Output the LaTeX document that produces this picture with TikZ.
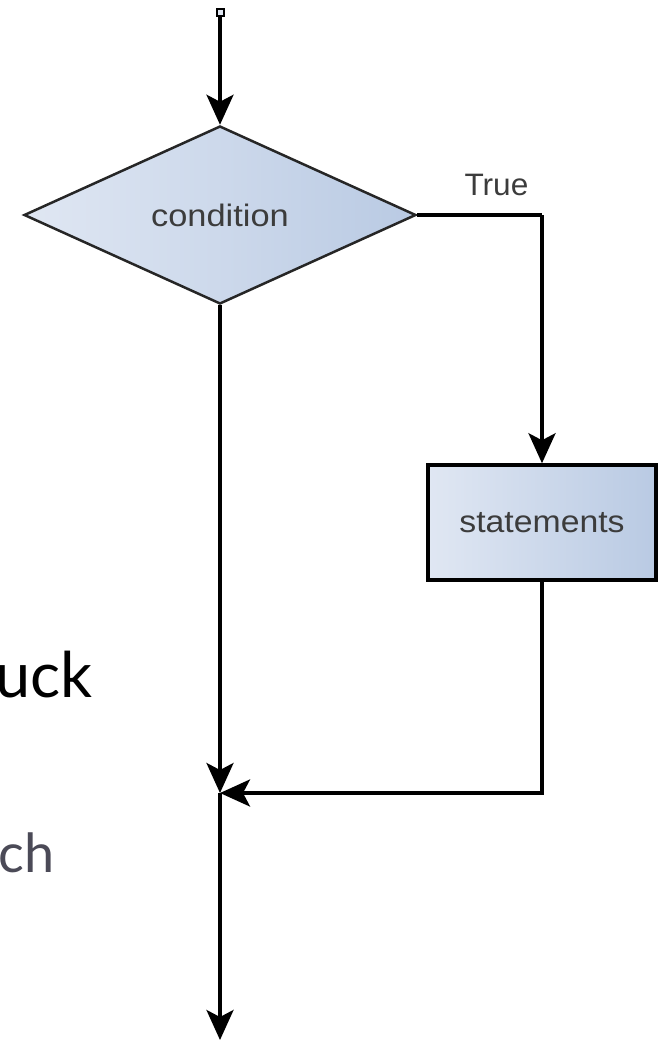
\documentclass[tikz,border=0pt]{standalone}
\usepackage{fontspec}
\setmainfont{Liberation Sans}
\newfontfamily\slidefont{Lato}
\usetikzlibrary{shapes.geometric,arrows.meta}

\definecolor{boxlight}{HTML}{E0E7F3}
\definecolor{boxdark}{HTML}{B9CAE3}
\definecolor{labelgrey}{HTML}{3C3C3C}
\definecolor{slidegrey}{HTML}{4B4A57}

\tikzset{
  wire/.style={line width=3.5pt},
  flow/.style={wire, -{Stealth[length=30pt,width=27pt,inset=7pt]}},
  decision/.style={diamond, draw=black!85, line width=2.5pt,
    left color=boxlight, right color=boxdark,
    minimum width=392pt, minimum height=178pt, inner sep=0pt,
    text=labelgrey, font=\fontsize{31}{36}\selectfont},
  process/.style={rectangle, draw=black, line width=3.5pt,
    left color=boxlight, right color=boxdark,
    minimum width=228pt, minimum height=115pt, inner sep=0pt,
    text=labelgrey, font=\fontsize{31}{36}\selectfont},
  startmark/.style={rectangle, draw=black, line width=2pt, fill=boxlight,
    minimum size=7pt, inner sep=0pt},
  slidetext/.style={font=\slidefont\fontsize{63}{70}\selectfont, anchor=base east},
}

\begin{document}
\begin{tikzpicture}[x=1pt,y=-1pt]
  \useasboundingbox (0,0) rectangle (659,1043);

  % flowchart nodes
  \node[startmark] (start) at (220,13) {};
  \node[decision] (cond) at (220,215) {\scalebox{1.11}[1]{condition}};
  \node[process] (stmt) at (542,522.5) {\scalebox{1.09}[1]{statements}};
  \coordinate (bend) at (stmt.north |- cond.east);
  \coordinate (join) at (220,793);
  \coordinate (finish) at (220,1040);

  % connectors
  \draw[flow] (start) -- (cond.north);
  \draw[wire] (cond.east) -- (bend);
  \draw[flow] (bend) -- (stmt.north);
  \node[anchor=base west, text=labelgrey, font=\fontsize{31}{36}\selectfont]
    (truelbl) at (461,195) {\scalebox{1.02}[1]{True}};
  \draw[flow] (cond.south) -- (join);
  \draw[flow] (stmt.south) |- (join);
  \draw[flow] (join) -- (finish);

  % slide text at the left edge
  \node[slidetext] (word1) at (96,697) {uck};
  \node[slidetext, text=slidegrey, font=\slidefont\fontsize{54}{60}\selectfont]
    (word2) at (58,872) {ch};
\end{tikzpicture}
\end{document}
